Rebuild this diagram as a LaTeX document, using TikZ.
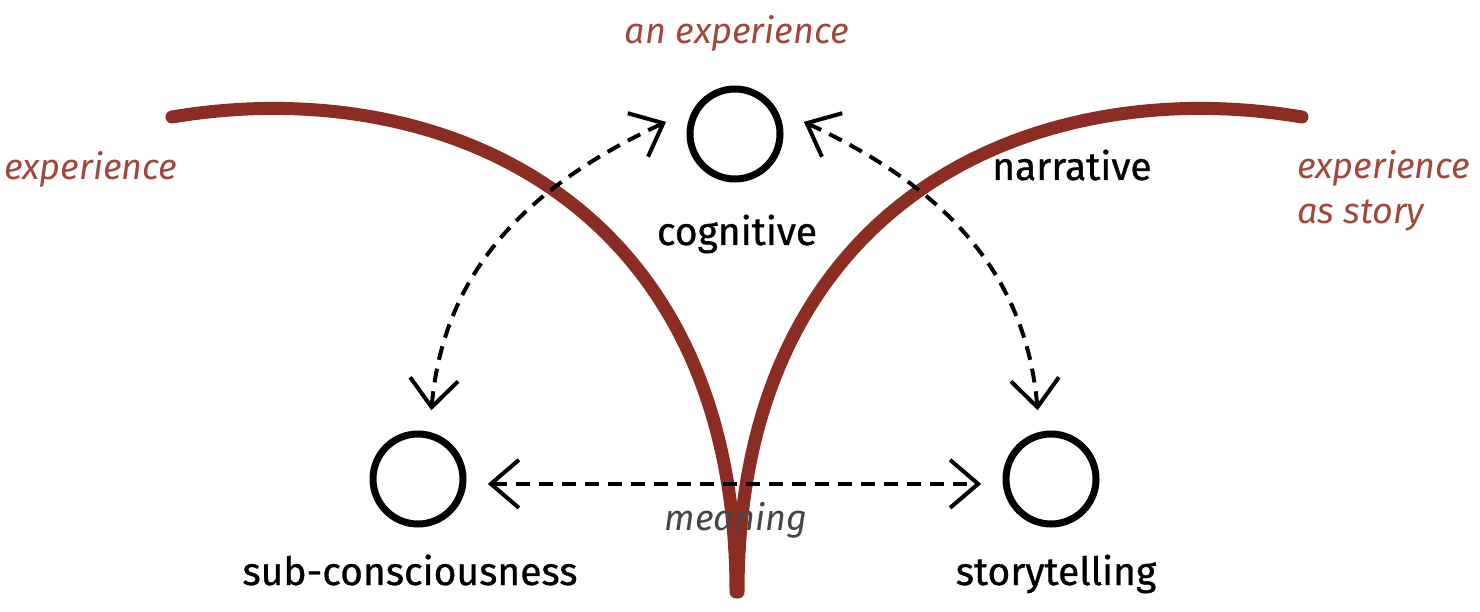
\documentclass[tikz,border=0pt]{standalone}
\usepackage{fontspec}
\setmainfont{Fira Sans}
\newfontfamily\lblfont[FakeBold=0.8]{Fira Sans}
\usetikzlibrary{arrows.meta}
\definecolor{curvered}{RGB}{140,45,35}
\definecolor{textred}{RGB}{160,72,62}
\definecolor{meangray}{RGB}{70,70,70}
\tikzset{
  redcurve/.style={draw=curvered, line width=13pt, line cap=round},
  ring/.style={circle, draw=black, line width=7pt, minimum size=90pt, inner sep=0pt, outer sep=25pt},
  darr/.style={line width=4pt, dash pattern=on 14pt off 9pt,
    {Straight Barb[length=28pt,width=48pt,line width=4pt]}-{Straight Barb[length=28pt,width=48pt,line width=4pt]}},
  lbl/.style={font=\lblfont\fontsize{39}{44}\selectfont, text=black, inner sep=0pt},
  redlbl/.style={font=\fontsize{36}{38}\selectfont\itshape, text=textred, inner sep=0pt, align=left},
  graylbl/.style={font=\fontsize{36}{40}\selectfont\itshape, text=meangray, inner sep=0pt}
}
\begin{document}
\begin{tikzpicture}[x=1pt,y=-1pt]
\useasboundingbox (0,0) rectangle (1480,612);
% red curves
\draw[redcurve] (172,117) .. controls (440,72) and (736,200) .. (736,592);
\draw[redcurve] (1302,117) .. controls (1034,72) and (738,200) .. (738,592);
% circles
\node[ring] (cog) at (735,134) {};
\node[ring] (sub) at (418,479) {};
\node[ring] (sto) at (1051,479) {};
% labels
\node[redlbl, anchor=base] (anexp) at (737,44) {an experience};
\node[lbl, anchor=base] (cogl) at (737,245) {cognitive};
\node[redlbl, anchor=base west] (exp) at (4,180) {experience};
\node[redlbl, anchor=base west] (expst) at (1297,224) {experience\\[7pt]as story};
\node[lbl, anchor=base west] (nar) at (992,180) {narrative};
\node[lbl, anchor=base] (subl) at (410,585) {sub-consciousness};
\node[lbl, anchor=base] (stol) at (1056,585) {storytelling};
\node[graylbl, anchor=base] (mean) at (736,530) {meaning};
% dashed arrows
\draw[darr] (sub.79) to[out=85,in=205] (cog.170);
\draw[darr] (sto.101) to[out=95,in=-25] (cog.10);
\draw[darr] (sub.-4) -- (sto.184);
\end{tikzpicture}
\end{document}
